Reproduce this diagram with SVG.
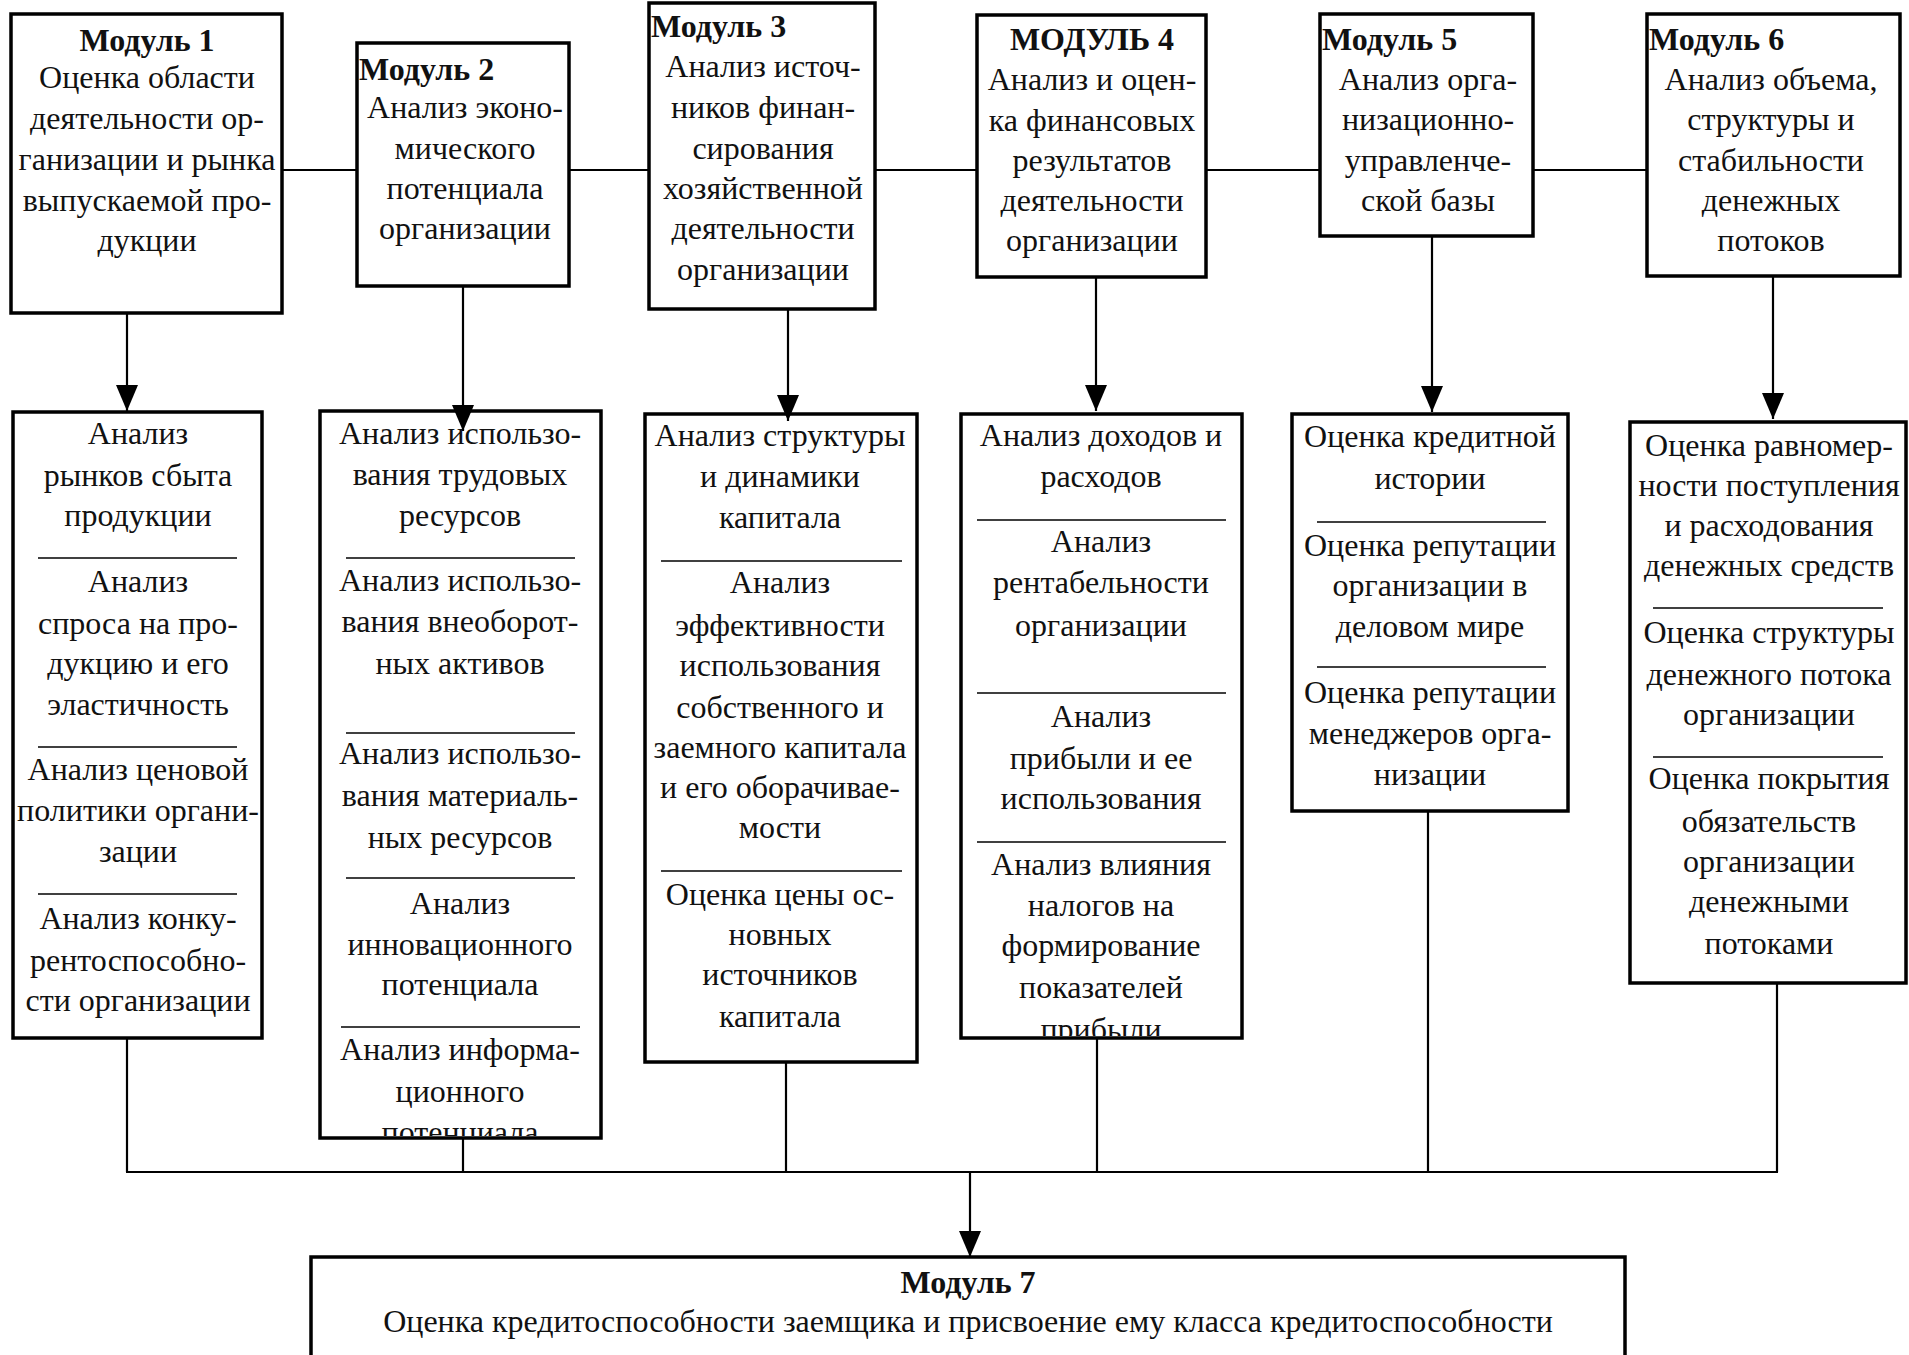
<svg xmlns="http://www.w3.org/2000/svg" width="1909" height="1355" viewBox="0 0 1909 1355">
<style>
.box{fill:#fff;stroke:#000;stroke-width:3.5}
.t{font-family:"Liberation Serif","Times New Roman",serif;font-size:32px;fill:#111;text-anchor:middle}
.l{text-anchor:start}
.b{font-weight:bold}
.sep{stroke:#000;stroke-width:1.6}
.c{stroke:#000;stroke-width:2.2;fill:none}
</style>
<defs>
<marker id="ah" viewBox="0 0 26 22" refX="26" refY="11" markerWidth="26" markerHeight="22" markerUnits="userSpaceOnUse" orient="auto">
<path d="M0,0 L26,11 L0,22 z" fill="#000"/>
</marker>
<clipPath id="cl2"><rect x="320" y="411" width="281" height="725"/></clipPath>
<clipPath id="cl4"><rect x="961" y="414" width="281" height="622"/></clipPath>
</defs>

<g id="m1">
<rect class="box" x="11" y="14" width="271" height="299"/>
<text class="t b" x="147" y="51">Модуль 1</text>
<text class="t" x="147" y="88">Оценка области</text>
<text class="t" x="147" y="129">деятельности ор-</text>
<text class="t" x="147" y="170">ганизации и рынка</text>
<text class="t" x="147" y="211">выпускаемой про-</text>
<text class="t" x="147" y="251">дукции</text>
</g>

<g id="m2">
<rect class="box" x="357" y="43" width="212" height="243"/>
<text class="t b l" x="359" y="80">Модуль 2</text>
<text class="t" x="465" y="118">Анализ эконо-</text>
<text class="t" x="465" y="159">мического</text>
<text class="t" x="465" y="199">потенциала</text>
<text class="t" x="465" y="239">организации</text>
</g>

<g id="m3">
<rect class="box" x="649" y="3" width="226" height="306"/>
<text class="t b l" x="651" y="37">Модуль 3</text>
<text class="t" x="763" y="77">Анализ источ-</text>
<text class="t" x="763" y="118">ников финан-</text>
<text class="t" x="763" y="159">сирования</text>
<text class="t" x="763" y="199">хозяйственной</text>
<text class="t" x="763" y="239">деятельности</text>
<text class="t" x="763" y="280">организации</text>
</g>

<g id="m4">
<rect class="box" x="977" y="15" width="229" height="262"/>
<text class="t b" x="1092" y="50">МОДУЛЬ 4</text>
<text class="t" x="1092" y="90">Анализ и оцен-</text>
<text class="t" x="1092" y="131">ка финансовых</text>
<text class="t" x="1092" y="171">результатов</text>
<text class="t" x="1092" y="211">деятельности</text>
<text class="t" x="1092" y="251">организации</text>
</g>

<g id="m5">
<rect class="box" x="1320" y="14" width="213" height="222"/>
<text class="t b l" x="1322" y="50">Модуль 5</text>
<text class="t" x="1428" y="90">Анализ орга-</text>
<text class="t" x="1428" y="130">низационно-</text>
<text class="t" x="1428" y="171">управленче-</text>
<text class="t" x="1428" y="211">ской базы</text>
</g>

<g id="m6">
<rect class="box" x="1647" y="14" width="253" height="262"/>
<text class="t b l" x="1649" y="50">Модуль 6</text>
<text class="t" x="1771" y="90">Анализ объема,</text>
<text class="t" x="1771" y="130">структуры и</text>
<text class="t" x="1771" y="171">стабильности</text>
<text class="t" x="1771" y="211">денежных</text>
<text class="t" x="1771" y="251">потоков</text>
</g>

<g id="l1">
<rect class="box" x="13" y="412" width="249" height="626"/>
<text class="t" x="138" y="444">Анализ</text>
<text class="t" x="138" y="486">рынков сбыта</text>
<text class="t" x="138" y="526">продукции</text>
<line class="sep" x1="38" y1="558" x2="237" y2="558"/>
<text class="t" x="138" y="592">Анализ</text>
<text class="t" x="138" y="634">спроса на про-</text>
<text class="t" x="138" y="674">дукцию и его</text>
<text class="t" x="138" y="715">эластичность</text>
<line class="sep" x1="38" y1="747" x2="237" y2="747"/>
<text class="t" x="138" y="780">Анализ ценовой</text>
<text class="t" x="138" y="821">политики органи-</text>
<text class="t" x="138" y="862">зации</text>
<line class="sep" x1="38" y1="894" x2="237" y2="894"/>
<text class="t" x="138" y="929">Анализ конку-</text>
<text class="t" x="138" y="971">рентоспособно-</text>
<text class="t" x="138" y="1011">сти организации</text>
</g>

<g id="l2">
<rect class="box" x="320" y="411" width="281" height="727"/>
<g clip-path="url(#cl2)">
<text class="t" x="460" y="444">Анализ использо-</text>
<text class="t" x="460" y="485">вания трудовых</text>
<text class="t" x="460" y="526">ресурсов</text>
<line class="sep" x1="346" y1="558" x2="575" y2="558"/>
<text class="t" x="460" y="591">Анализ использо-</text>
<text class="t" x="460" y="632">вания внеоборот-</text>
<text class="t" x="460" y="674">ных активов</text>
<line class="sep" x1="346" y1="733" x2="575" y2="733"/>
<text class="t" x="460" y="764">Анализ использо-</text>
<text class="t" x="460" y="806">вания материаль-</text>
<text class="t" x="460" y="848">ных ресурсов</text>
<line class="sep" x1="346" y1="878" x2="575" y2="878"/>
<text class="t" x="460" y="914">Анализ</text>
<text class="t" x="460" y="955">инновационного</text>
<text class="t" x="460" y="995">потенциала</text>
<line class="sep" x1="341" y1="1027" x2="580" y2="1027"/>
<text class="t" x="460" y="1060">Анализ информа-</text>
<text class="t" x="460" y="1102">ционного</text>
<text class="t" x="460" y="1143">потенциала</text>
</g>
</g>

<g id="l3">
<rect class="box" x="645" y="414" width="272" height="648"/>
<text class="t" x="780" y="446">Анализ структуры</text>
<text class="t" x="780" y="487">и динамики</text>
<text class="t" x="780" y="528">капитала</text>
<line class="sep" x1="661" y1="561" x2="902" y2="561"/>
<text class="t" x="780" y="593">Анализ</text>
<text class="t" x="780" y="636">эффективности</text>
<text class="t" x="780" y="676">использования</text>
<text class="t" x="780" y="718">собственного и</text>
<text class="t" x="780" y="758">заемного капитала</text>
<text class="t" x="780" y="798">и его оборачивае-</text>
<text class="t" x="780" y="838">мости</text>
<line class="sep" x1="661" y1="871" x2="902" y2="871"/>
<text class="t" x="780" y="905">Оценка цены ос-</text>
<text class="t" x="780" y="945">новных</text>
<text class="t" x="780" y="985">источников</text>
<text class="t" x="780" y="1027">капитала</text>
</g>

<g id="l4">
<rect class="box" x="961" y="414" width="281" height="624"/>
<g clip-path="url(#cl4)">
<text class="t" x="1101" y="446">Анализ доходов и</text>
<text class="t" x="1101" y="487">расходов</text>
<line class="sep" x1="977" y1="520" x2="1226" y2="520"/>
<text class="t" x="1101" y="552">Анализ</text>
<text class="t" x="1101" y="593">рентабельности</text>
<text class="t" x="1101" y="636">организации</text>
<line class="sep" x1="977" y1="693" x2="1226" y2="693"/>
<text class="t" x="1101" y="727">Анализ</text>
<text class="t" x="1101" y="769">прибыли и ее</text>
<text class="t" x="1101" y="809">использования</text>
<line class="sep" x1="977" y1="842" x2="1226" y2="842"/>
<text class="t" x="1101" y="875">Анализ влияния</text>
<text class="t" x="1101" y="916">налогов на</text>
<text class="t" x="1101" y="956">формирование</text>
<text class="t" x="1101" y="998">показателей</text>
<text class="t" x="1101" y="1040">прибыли</text>
</g>
</g>

<g id="l5">
<rect class="box" x="1292" y="414" width="276" height="397"/>
<text class="t" x="1430" y="447">Оценка кредитной</text>
<text class="t" x="1430" y="489">истории</text>
<line class="sep" x1="1317" y1="522" x2="1546" y2="522"/>
<text class="t" x="1430" y="556">Оценка репутации</text>
<text class="t" x="1430" y="596">организации в</text>
<text class="t" x="1430" y="637">деловом мире</text>
<line class="sep" x1="1317" y1="667" x2="1546" y2="667"/>
<text class="t" x="1430" y="703">Оценка репутации</text>
<text class="t" x="1430" y="744">менеджеров орга-</text>
<text class="t" x="1430" y="785">низации</text>
</g>

<g id="l6">
<rect class="box" x="1630" y="422" width="276" height="561"/>
<text class="t" x="1769" y="456">Оценка равномер-</text>
<text class="t" x="1769" y="496">ности поступления</text>
<text class="t" x="1769" y="536">и расходования</text>
<text class="t" x="1769" y="576">денежных средств</text>
<line class="sep" x1="1653" y1="608" x2="1883" y2="608"/>
<text class="t" x="1769" y="643">Оценка структуры</text>
<text class="t" x="1769" y="685">денежного потока</text>
<text class="t" x="1769" y="725">организации</text>
<line class="sep" x1="1653" y1="757" x2="1883" y2="757"/>
<text class="t" x="1769" y="789">Оценка покрытия</text>
<text class="t" x="1769" y="832">обязательств</text>
<text class="t" x="1769" y="872">организации</text>
<text class="t" x="1769" y="912">денежными</text>
<text class="t" x="1769" y="954">потоками</text>
</g>

<g id="m7">
<rect class="box" x="311" y="1257" width="1314" height="110"/>
<text class="t b" x="968" y="1293">Модуль 7</text>
<text class="t" x="968" y="1332">Оценка кредитоспособности заемщика и присвоение ему класса кредитоспособности</text>
</g>

<g id="connectors">
<line class="c" x1="282" y1="170" x2="357" y2="170"/>
<line class="c" x1="569" y1="170" x2="649" y2="170"/>
<line class="c" x1="875" y1="170" x2="977" y2="170"/>
<line class="c" x1="1206" y1="170" x2="1320" y2="170"/>
<line class="c" x1="1533" y1="170" x2="1647" y2="170"/>
<line class="c" x1="127" y1="313" x2="127" y2="411" marker-end="url(#ah)"/>
<line class="c" x1="463" y1="286" x2="463" y2="431" marker-end="url(#ah)"/>
<line class="c" x1="788" y1="309" x2="788" y2="421" marker-end="url(#ah)"/>
<line class="c" x1="1096" y1="277" x2="1096" y2="411" marker-end="url(#ah)"/>
<line class="c" x1="1432" y1="236" x2="1432" y2="412" marker-end="url(#ah)"/>
<line class="c" x1="1773" y1="276" x2="1773" y2="419" marker-end="url(#ah)"/>
<line class="c" x1="127" y1="1038" x2="127" y2="1172"/>
<line class="c" x1="463" y1="1138" x2="463" y2="1172"/>
<line class="c" x1="786" y1="1062" x2="786" y2="1172"/>
<line class="c" x1="1097" y1="1038" x2="1097" y2="1172"/>
<line class="c" x1="1428" y1="811" x2="1428" y2="1172"/>
<line class="c" x1="1777" y1="983" x2="1777" y2="1172"/>
<line class="c" x1="126" y1="1172" x2="1778" y2="1172"/>
<line class="c" x1="970" y1="1172" x2="970" y2="1257" marker-end="url(#ah)"/>
</g>
</svg>
